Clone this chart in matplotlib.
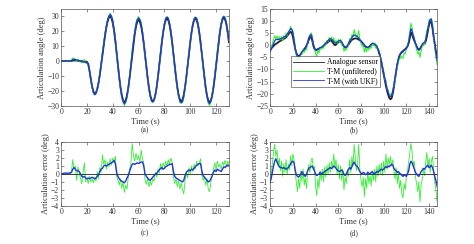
import matplotlib
matplotlib.use("Agg")
import matplotlib.pyplot as plt
import numpy as np

plt.rcParams['font.family'] = ['Liberation Serif', 'DejaVu Serif']

# ---- panel (a) / (c): time 0..130 s, 1 s step
t_a = np.arange(0, 131)
ang_a = [
    0.0, 0.0, 0.0, 0.0, 0.0, 0.0, 0.0, 0.0, 0.2, 0.3,
    0.5, 0.4, 0.3, 0.2, 0.1, 0.0, 0.0, -0.2, -0.3, -0.4,
    -0.5, -2.0, -6.5, -12.0, -17.0, -20.5, -22.0, -21.1, -18.5, -14.4,
    -9.0, -2.7, 4.0, 10.7, 17.0, 22.4, 26.5, 29.1, 30.0, 28.8,
    25.4, 20.1, 13.2, 5.3, -2.8, -10.7, -17.6, -22.9, -26.3, -27.5,
    -26.4, -23.1, -18.0, -11.4, -3.9, 3.9, 11.4, 18.0, 23.1, 26.4,
    27.5, 26.4, 23.2, 18.1, 11.6, 4.1, -3.6, -11.1, -17.6, -22.7,
    -25.9, -27.0, -25.9, -22.6, -17.4, -10.8, -3.2, 4.7, 12.3, 18.9,
    24.1, 27.4, 28.5, 27.4, 24.1, 18.9, 12.3, 4.7, -3.2, -10.8,
    -17.4, -22.6, -25.9, -27.0, -25.9, -22.6, -17.4, -10.8, -3.2, 4.7,
    12.3, 18.9, 24.1, 27.4, 28.5, 27.4, 24.1, 18.8, 12.1, 4.5,
    -3.5, -11.1, -17.8, -23.1, -26.4, -27.5, -26.4, -23.0, -17.8, -11.0,
    -3.3, 4.8, 12.5, 19.3, 24.5, 27.9, 29.0, 27.9, 24.6, 19.3,
    12.6,
]
err_ukf_c = [
    0.0, 0.0, 0.1, 0.1, 0.1, 0.1, 0.1, 0.1, 0.2, 0.6,
    0.8, 0.6, 0.4, 0.4, 0.3, 0.0, -0.3, -0.4, -0.3, -0.5,
    -0.6, -0.5, -0.6, -0.5, -0.4, -0.5, -0.6, -0.5, -0.3, -0.1,
    0.3, 0.6, 0.7, 1.0, 1.1, 1.0, 1.1, 1.2, 1.3, 1.4,
    1.5, 1.7, 1.3, 0.2, -0.3, -0.6, -0.8, -0.9, -1.0, -1.1,
    -0.9, -0.5, -0.2, 0.3, 0.8, 1.2, 1.3, 1.2, 1.3, 1.4,
    1.3, 1.4, 1.5, 1.5, 1.0, 0.0, -0.3, -0.5, -0.7, -0.8,
    -0.6, -0.4, -0.2, 0.0, 0.1, 0.3, 0.5, 0.7, 0.8, 0.6,
    0.7, 0.9, 1.0, 1.1, 1.2, 1.2, 1.3, 0.3, -0.3, -0.5,
    -0.6, -0.7, -0.8, -0.9, -1.0, -0.8, -0.2, 0.2, 0.4, 0.5,
    0.4, 0.6, 0.5, 0.7, 0.9, 1.1, 1.2, 1.3, 1.3, 0.4,
    -0.2, -0.4, -0.6, -0.8, -1.0, -0.9, -0.6, -0.2, 0.2, 0.5,
    0.3, 0.6, 0.5, 0.4, 0.3, 0.6, 0.9, 0.8, 1.0, 1.1,
    1.1,
]
err_unf_c = [
    0.0, 0.1, 0.0, 0.1, 0.1, 0.0, 0.1, 0.2, 0.3, 1.8,
    0.6, 1.0, -0.8, 0.9, 0.2, -0.6, -1.2, 0.2, 1.4, -1.0,
    -0.5, -1.2, -0.3, -1.0, -0.6, -1.1, -0.4, -0.9, 0.3, -0.6,
    0.8, 0.2, 2.4, 1.2, 1.8, 0.6, 1.5, 0.9, 1.9, 1.1,
    2.0, 1.4, 2.2, -0.3, -0.8, -1.4, -0.6, -1.8, -1.0, -2.3,
    -1.4, -1.9, -0.4, 0.6, 1.2, 3.8, 2.4, 1.6, 2.6, 1.8,
    2.3, 1.5, 3.0, 1.9, 1.4, -0.8, -1.3, -0.5, -1.6, -0.9,
    -1.4, -0.6, -0.9, 0.2, -0.4, 0.6, 0.1, 1.3, 0.5, 1.4,
    0.8, 1.6, 1.0, 1.8, 1.2, 2.0, 1.5, -0.4, -1.2, -0.6,
    -1.6, -0.8, -1.9, -1.1, -2.0, -2.5, -0.8, 0.1, -0.5, 0.8,
    0.0, 1.0, 0.3, 1.2, 0.6, 1.6, 1.0, 1.4, 1.9, -0.2,
    -0.8, -0.3, -1.4, -0.6, -1.9, -2.2, -1.0, -0.3, 0.6, 1.4,
    0.5, 1.6, 0.9, 1.2, 0.6, 1.5, 1.1, 1.7, 1.0, 1.6,
    1.3,
]

# ---- panel (b) / (d): time 0..148 s, 1 s step
t_b = np.arange(0, 149)
ang_b = [
    -1.5, -1.2, -0.8, -0.3, 0.2, 0.5, 0.8, 1.2, 1.5, 1.8,
    2.0, 2.3, 2.6, 2.9, 3.2, 3.8, 4.5, 5.0, 5.5, 5.2,
    3.5, 1.0, -1.5, -3.2, -4.2, -4.5, -4.2, -3.6, -3.0, -2.3,
    -1.6, -1.0, -0.2, 0.8, 2.2, 3.3, 3.5, 2.0, -0.2, -1.5,
    -2.0, -1.9, -1.6, -1.4, -1.2, -1.0, -0.7, -0.3, 0.1, 0.5,
    0.9, 1.3, 1.7, 1.9, 1.8, 1.2, 0.5, 0.0, 0.2, 0.7,
    1.2, 1.6, 1.5, 0.9, 0.1, -0.5, -0.8, -0.9, -0.5, 0.2,
    1.0, 1.7, 2.2, 2.5, 2.7, 2.8, 2.8, 2.6, 2.3, 2.0,
    1.6, 1.1, 0.5, -0.1, -0.6, -0.9, -1.0, -0.8, -0.3, 0.2,
    0.5, 0.6, 0.4, -0.2, -0.8, -1.8, -3.2, -5.0, -7.2, -9.6,
    -12.0, -14.5, -16.8, -18.8, -20.5, -21.8, -22.3, -21.8, -20.0, -17.2,
    -14.0, -10.8, -8.0, -5.8, -4.3, -3.4, -2.8, -2.4, -2.0, -1.6,
    -1.1, -0.4, 0.8, 3.0, 5.2, 4.5, 3.0, 1.8, 0.6, -0.5,
    -1.4, -1.8, -1.5, -0.7, 0.0, 0.3, 0.5, 1.5, 3.5, 6.0,
    8.5, 9.8, 9.5, 7.0, 3.5, 0.5, -2.5, -4.5, -5.5,
]
err_ukf_d = [
    -1.0, -0.5, 0.3, 1.0, 1.6, 1.9, 1.5, 1.2, 0.9, 0.8,
    0.8, 0.7, 0.8, 0.7, 0.6, 0.7, 0.8, 1.0, 1.3, 1.5,
    1.6, 1.4, 0.5, -0.1, -0.3, -0.4, -0.2, 0.0, 0.3, 0.1,
    -0.2, -0.3, 0.0, 0.4, 0.7, 0.8, 0.9, 1.0, 0.7, 0.4,
    0.0, -0.2, -0.1, 0.0, 0.2, 0.1, 0.0, 0.2, 0.3, 0.4,
    0.5, 0.6, 0.7, 0.8, 0.7, 0.8, 1.0, 0.9, 0.7, 0.5,
    0.4, 0.3, 0.4, 0.5, 0.3, 0.0, -0.2, 0.0, 0.3, 0.6,
    0.8, 0.6, 0.9, 1.3, 1.5, 1.2, 1.0, 0.9, 0.6, 0.3,
    0.1, 0.0, 0.2, 0.1, -0.1, 0.0, 0.2, 0.1, 0.0, 0.2,
    0.3, 0.1, 0.0, 0.2, 0.3, 0.2, 0.4, 0.5, 0.6, 0.5,
    0.6, 0.8, 0.9, 0.8, 1.0, 0.9, 1.1, 1.2, 1.1, 0.7,
    0.5, 0.4, 0.2, 0.3, 0.1, 0.0, -0.2, -0.3, -0.1, -0.2,
    -0.3, 0.0, 0.4, 1.2, 1.6, 1.4, 1.0, 0.6, 0.2, 0.0,
    -0.2, -0.3, 0.0, 0.3, 0.5, 0.7, 0.6, 0.8, 1.0, 1.1,
    0.8, 0.9, 1.1, 0.8, 0.3, -0.3, -0.8, -1.5, -2.0,
]
err_unf_d = [
    -1.2, 0.2, 1.5, 2.8, 3.7, 2.2, 3.0, 1.0, 2.0, 0.4,
    1.6, -0.3, 1.3, 0.2, 1.8, 0.0, 1.2, 0.5, 2.3, 1.0,
    2.5, 1.8, 0.3, -1.0, -2.2, -0.6, -1.8, 0.4, -0.9, 0.6,
    -1.4, -0.5, -1.8, 0.3, 1.2, 0.2, 1.6, 2.0, 0.5, 1.0,
    -1.5, -2.7, -0.6, -1.8, 0.4, -0.8, 0.6, -1.0, 0.9, -0.4,
    1.1, 0.0, 1.4, 0.2, 1.6, 0.6, 2.5, 0.8, 1.8, 0.0,
    1.2, -0.6, 1.0, -0.8, 0.6, -2.0, -0.4, -1.2, 0.5, -0.3,
    1.8, 0.2, 2.2, 1.0, 3.7, 2.0, 0.4, 1.2, 3.7, 0.6,
    -0.8, -1.6, -0.4, -2.8, -0.6, -1.8, 0.3, -1.2, -0.2, -1.5,
    0.4, -0.8, 0.6, -1.0, 1.0, -0.3, 1.2, 0.0, 1.4, -0.2,
    1.6, 0.2, 2.5, 0.6, 2.0, 1.2, 2.2, 1.0, 1.8, 0.4,
    -0.6, 0.8, -1.2, 0.2, -1.8, -0.8, -2.5, -3.0, -1.2, -2.0,
    -0.4, 0.4, 1.5, 2.6, 3.8, 2.8, 1.0, 1.6, -0.4, -1.2,
    -2.2, -1.0, -3.5, -1.4, -0.6, 0.6, -0.2, 1.4, 2.7, 0.8,
    2.0, 0.2, 1.6, 2.2, 0.6, -1.0, -2.0, -3.5, -2.5,
]

labels = ["Analogue sensor", "T-M (unfiltered)", "T-M (with UKF)"]
c_ana = "#222222"
c_unf = "#33ee33"
c_ukf = "#2233dd"
fs = 5.5


def style(ax, xlim, ylim, yticks, xticks, ylabel):
    ax.set_xlim(*xlim)
    ax.set_ylim(*ylim)
    ax.set_xticks(xticks)
    ax.set_yticks(yticks)
    ax.tick_params(direction="in", length=2, width=0.4, labelsize=fs,
                   top=True, right=True, pad=1.5, colors="#333333")
    for s in ax.spines.values():
        s.set_linewidth(0.5)
        s.set_color("#555555")
    ax.set_xlabel("Time (s)", fontsize=fs + 0.6, labelpad=1, color="#333333")
    ax.set_ylabel(ylabel, fontsize=fs + 0.6, labelpad=1, color="#333333")


fig = plt.figure(figsize=(4.74, 2.44), dpi=100)
ax_a = fig.add_axes([0.129, 0.566, 0.354, 0.398])
ax_b = fig.add_axes([0.570, 0.566, 0.352, 0.398])
ax_c = fig.add_axes([0.129, 0.156, 0.354, 0.262])
ax_d = fig.add_axes([0.570, 0.156, 0.352, 0.262])

ang_a = np.array(ang_a)
ang_b = np.array(ang_b)

# top panels: angles
for ax, t, ang, eu, ek in [(ax_a, t_a, ang_a, err_unf_c, err_ukf_c),
                           (ax_b, t_b, ang_b, err_unf_d, err_ukf_d)]:
    ax.plot(t, ang, color=c_ana, lw=1.3, label=labels[0])
    ax.plot(t, ang + np.array(eu), color=c_unf, lw=0.8, label=labels[1])
    ax.plot(t, ang + np.array(ek), color=c_ukf, lw=0.9, label=labels[2])

style(ax_a, (0, 130), (-30, 35), np.arange(-30, 31, 10), np.arange(0, 121, 20),
      "Articulation angle (deg)")
style(ax_b, (0, 147), (-25, 15), np.arange(-25, 16, 5), np.arange(0, 141, 20),
      "Articulation angle (deg)")

leg = ax_b.legend(loc="lower left", bbox_to_anchor=(0.1, 0.155), fontsize=fs,
                  handlelength=4.0, frameon=True, fancybox=False,
                  borderpad=0.3, labelspacing=0.15, handletextpad=0.4)
leg.get_frame().set_edgecolor("#333333")
leg.get_frame().set_linewidth(0.5)
for ln in leg.get_lines():
    ln.set_linewidth(0.6)

# bottom panels: errors
for ax, t, eu, ek in [(ax_c, t_a, err_unf_c, err_ukf_c),
                      (ax_d, t_b, err_unf_d, err_ukf_d)]:
    ax.plot(t, eu, color=c_unf, lw=0.6)
    ax.plot(t, np.zeros(len(t)), color=c_ana, lw=0.6)
    ax.plot(t, ek, color=c_ukf, lw=1.0)
    style(ax, (0, t[-1] if t[-1] < 140 else 147), (-4, 4), np.arange(-4, 5, 1),
          np.arange(0, t[-1] + 1, 20), "Articulation error (deg)")

for ax, lab, y in [(ax_a, "(a)", 0.467), (ax_b, "(b)", 0.467),
                   (ax_c, "(c)", 0.045), (ax_d, "(d)", 0.045)]:
    p = ax.get_position()
    fig.text((p.x0 + p.x1) / 2, y, lab, fontsize=fs, ha="center", va="center",
             color="#333333")

fig.savefig("out.png", dpi=100)
